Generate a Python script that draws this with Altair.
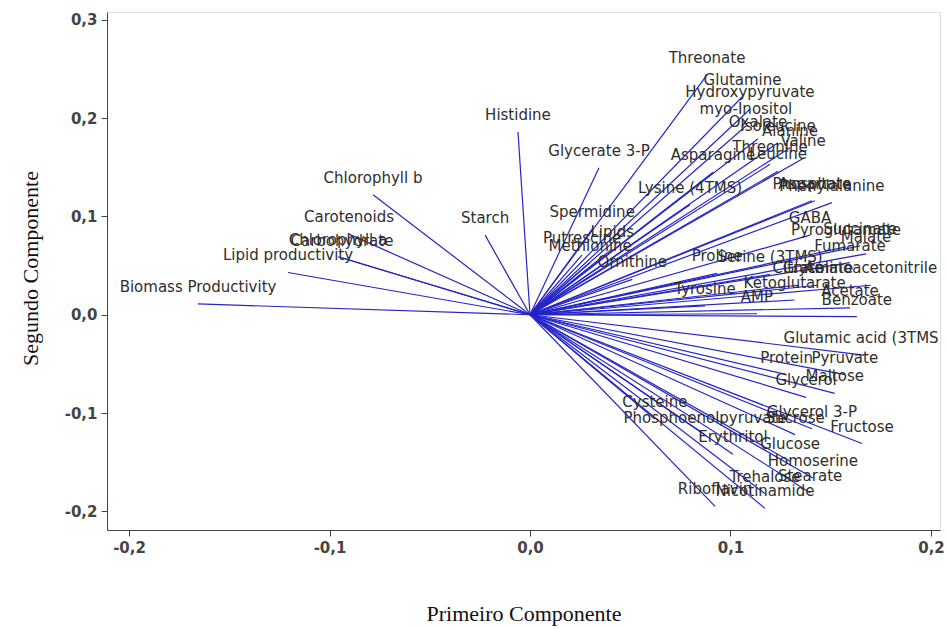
import altair as alt
import pandas as pd

# Loadings on the first two principal components
names = [
    "Biomass Productivity", "Lipid productivity", "Chlorophyll b", "Carotenoids",
    "Chlorophyll a", "Carbohydrate", "Histidine", "Starch", "Glycerate 3-P",
    "Spermidine", "Putrescine", "Lipids", "Methionine", "Ornithine",
    "Threonate", "Glutamine", "Hydroxypyruvate", "myo-Inositol", "Oxalate",
    "Isoleucine", "Alanine", "Threonine", "Valine", "Asparagine", "Leucine",
    "Lysine (4TMS)", "Phosphate", "Aspartate", "Phenylalanine", "GABA",
    "Pyroglutamate", "Succinate", "Malate", "Fumarate", "Serine (3TMS)",
    "Proline", "Citrate", "Glycolate", "Aminoacetonitrile", "Tyrosine",
    "Ketoglutarate", "AMP", "Acetate", "Benzoate",
    "Glutamic acid (3TMS)", "Protein", "Pyruvate", "Maltose", "Glycerol",
    "Glycerol 3-P", "Fructose", "Sucrose", "Phosphoenolpyruvate", "Cysteine",
    "Erythritol", "Glucose", "Homoserine", "Trehalose", "Stearate",
    "Riboflavin", "Nicotinamide",
]
pc1 = [
    -0.1656, -0.1207, -0.0783, -0.0903,
    -0.0958, -0.0938, -0.0060, -0.0224, 0.0344,
    0.0310, 0.0260, 0.0410, 0.0300, 0.0510,
    0.0883, 0.1060, 0.1097, 0.1077, 0.1137,
    0.1237, 0.1297, 0.1197, 0.1362, 0.0913, 0.1237,
    0.0798, 0.1406, 0.1421, 0.1506, 0.1397,
    0.1576, 0.1646, 0.1676, 0.1596, 0.1197,
    0.0933, 0.1337, 0.1436, 0.1700, 0.0873,
    0.1320, 0.1132, 0.1596, 0.1630,
    0.1666, 0.1280, 0.1570, 0.1520, 0.1377,
    0.1406, 0.1656, 0.1322, 0.0873, 0.0623,
    0.1012, 0.1297, 0.1411, 0.1172, 0.1397,
    0.0923, 0.1172,
]
pc2 = [
    0.011, 0.043, 0.122, 0.082,
    0.059, 0.058, 0.186, 0.081, 0.1495,
    0.087, 0.061, 0.067, 0.053, 0.036,
    0.244, 0.222, 0.209, 0.192, 0.179,
    0.175, 0.170, 0.153, 0.159, 0.145, 0.146,
    0.112, 0.116, 0.116, 0.114, 0.081,
    0.069, 0.070, 0.062, 0.053, 0.041,
    0.042, 0.030, 0.030, 0.030, 0.009,
    0.015, 0.001, 0.007, -0.002,
    -0.041, -0.061, -0.061, -0.080, -0.084,
    -0.116, -0.131, -0.122, -0.122, -0.106,
    -0.142, -0.149, -0.166, -0.182, -0.181,
    -0.195, -0.197,
]

df = pd.DataFrame({"name": names, "pc1": pc1, "pc2": pc2})
df["x0"] = 0.0
df["y0"] = 0.0

comma = "replace(replace(format(datum.value, '.1f'), '.', ','), '\u2212', '-')"

xscale = alt.Scale(domain=[-0.211, 0.2045], nice=False, zero=False)
yscale = alt.Scale(domain=[-0.219, 0.308], nice=False, zero=False)

xaxis = alt.Axis(
    values=[-0.2, -0.1, 0.0, 0.1, 0.2], labelExpr=comma, grid=False,
    title="Primeiro Componente", titleFont="Liberation Serif", titleFontSize=22,
    titleFontWeight="normal", titleColor="#111", titleY=90, titleBaseline="alphabetic",
    labelFont="DejaVu Sans", labelFontSize=15, labelFontWeight="bold", labelColor="#444",
    tickColor="#444", tickSize=6, domainColor="#444", labelPadding=4,
)
yaxis = alt.Axis(
    values=[-0.2, -0.1, 0.0, 0.1, 0.2, 0.3], labelExpr=comma, grid=False,
    title="Segundo Componente", titleFont="Liberation Serif", titleFontSize=22,
    titleFontWeight="normal", titleColor="#111", titleAngle=270,
    titleX=-70, titleY=256, titleAlign="center", titleBaseline="alphabetic",
    labelFont="DejaVu Sans", labelFontSize=15, labelFontWeight="bold", labelColor="#444",
    tickColor="#444", tickSize=6, domainColor="#444", labelPadding=4,
)

base = alt.Chart(df)

vectors = base.mark_rule(color="#2424c8", strokeWidth=1.2).encode(
    x=alt.X("x0:Q", scale=xscale, axis=xaxis),
    y=alt.Y("y0:Q", scale=yscale, axis=yaxis),
    x2="pc1:Q",
    y2="pc2:Q",
)

# Variable names sit just above the tip of each loading vector
labels = base.mark_text(
    font="DejaVu Sans", fontSize=15, color="#2e2e2e", align="center",
    baseline="middle", dy=-17, clip=True,
).encode(
    x=alt.X("pc1:Q", scale=xscale),
    y=alt.Y("pc2:Q", scale=yscale),
    text="name:N",
)

chart = alt.layer(vectors, labels).properties(
    width=833, height=518,
    autosize="none",
    padding={"left": 107, "top": 12, "right": 6, "bottom": 99},
).configure_view(stroke="#555", strokeWidth=1).configure(background="white")

chart.save("out.html", embed_options={"renderer": "svg", "actions": False})
